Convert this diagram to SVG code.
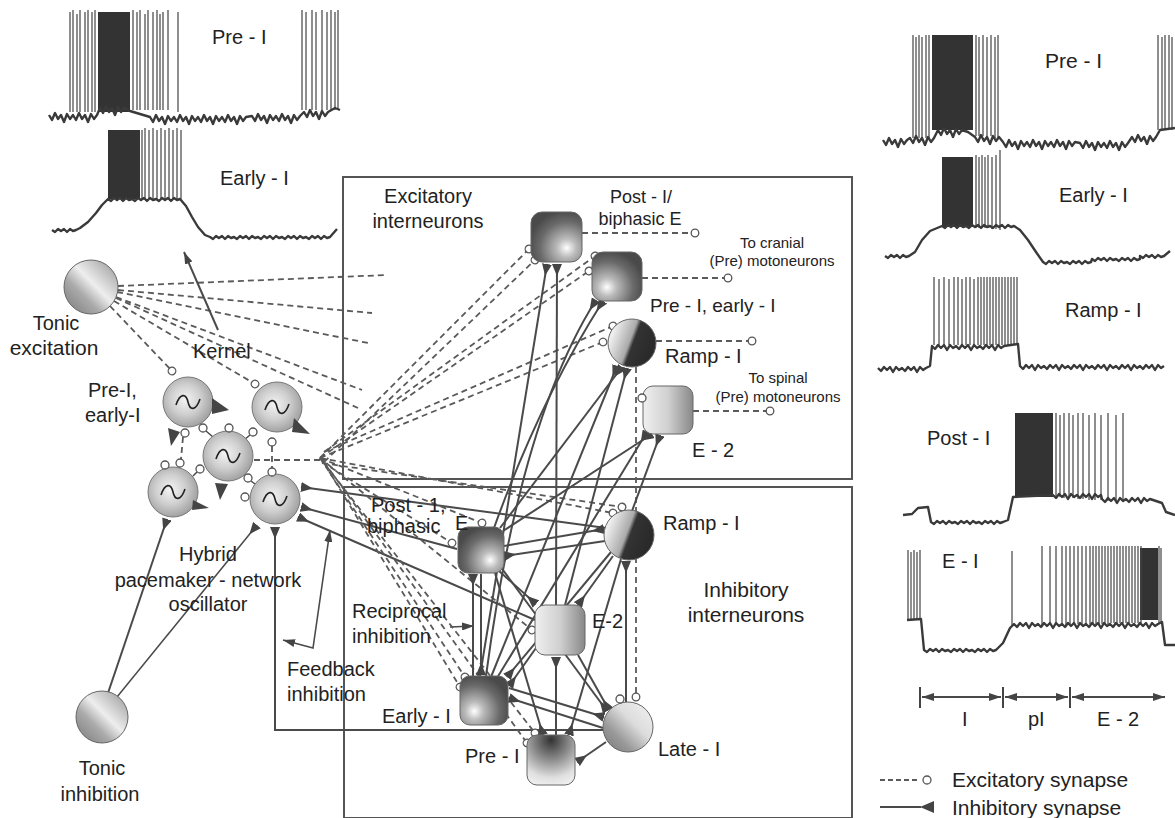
<svg xmlns="http://www.w3.org/2000/svg" xmlns:xlink="http://www.w3.org/1999/xlink" width="1175" height="818" viewBox="0 0 1175 818">
<style>
.t{font-family:"Liberation Sans",Arial,sans-serif;fill:#222}
.s20{font-size:20px}.s21{font-size:21px}.s18{font-size:18px}.s15{font-size:15px}.s19{font-size:19px}
.mid{text-anchor:middle}
.tr{fill:none;stroke:#3a3a3a;stroke-width:2.4;stroke-linejoin:round}
.sp{fill:none;stroke:#444;stroke-width:1.2}
.burst{fill:#333}
.inh{fill:none;stroke:#4a4a4a;stroke-width:2}
.exc{fill:none;stroke:#5a5a5a;stroke-width:1.8;stroke-dasharray:6 4}
.box{fill:none;stroke:#555;stroke-width:2}
.syn{fill:#fff;stroke:#555;stroke-width:1.3}
.tri{fill:#444}
.nd{stroke:#666;stroke-width:1}
</style>
<defs>
<radialGradient id="gOsc" cx="0.45" cy="0.45" r="0.6"><stop offset="0" stop-color="#f4f4f4"/><stop offset="0.5" stop-color="#cfcfcf"/><stop offset="1" stop-color="#9a9a9a"/></radialGradient>
<linearGradient id="gTonic" x1="0" y1="1" x2="1" y2="0"><stop offset="0" stop-color="#777"/><stop offset="0.35" stop-color="#aaa"/><stop offset="0.55" stop-color="#eee"/><stop offset="0.8" stop-color="#bbb"/><stop offset="1" stop-color="#888"/></linearGradient>
<radialGradient id="gBR" cx="0.7" cy="0.72" r="0.75"><stop offset="0" stop-color="#fff"/><stop offset="0.25" stop-color="#bbb"/><stop offset="0.7" stop-color="#6a6a6a"/><stop offset="1" stop-color="#4a4a4a"/></radialGradient>
<radialGradient id="gBL" cx="0.3" cy="0.72" r="0.75"><stop offset="0" stop-color="#fff"/><stop offset="0.25" stop-color="#bbb"/><stop offset="0.7" stop-color="#6a6a6a"/><stop offset="1" stop-color="#4a4a4a"/></radialGradient>
<linearGradient id="gRamp" x1="0.1" y1="0.3" x2="0.9" y2="0.6"><stop offset="0" stop-color="#eee"/><stop offset="0.45" stop-color="#aaa"/><stop offset="0.55" stop-color="#333"/><stop offset="1" stop-color="#2a2a2a"/></linearGradient>
<linearGradient id="gE2" x1="0" y1="0" x2="1" y2="0"><stop offset="0" stop-color="#f0f0f0"/><stop offset="0.5" stop-color="#d0d0d0"/><stop offset="1" stop-color="#888"/></linearGradient>
<linearGradient id="gLate" x1="0" y1="1" x2="1" y2="0"><stop offset="0" stop-color="#777"/><stop offset="0.3" stop-color="#999"/><stop offset="0.6" stop-color="#ddd"/><stop offset="1" stop-color="#f2f2f2"/></linearGradient>
<radialGradient id="gPre" cx="0.5" cy="0.1" r="0.95"><stop offset="0" stop-color="#333"/><stop offset="0.4" stop-color="#888"/><stop offset="0.8" stop-color="#e0e0e0"/><stop offset="1" stop-color="#f0f0f0"/></radialGradient>
<marker id="tri" viewBox="0 0 12 10" markerWidth="12" markerHeight="10" refX="12" refY="5" orient="auto" markerUnits="userSpaceOnUse"><path d="M0,5 L12,0 L12,10 Z" fill="#444"/></marker>
<marker id="ex" viewBox="0 0 10 10" markerWidth="10" markerHeight="10" refX="5" refY="5" orient="auto" markerUnits="userSpaceOnUse"><circle cx="5" cy="5" r="3.8" fill="#fff" stroke="#555" stroke-width="1.3"/></marker>
<marker id="arr" viewBox="0 0 12 8" markerWidth="12" markerHeight="8" refX="12" refY="4" orient="auto-start-reverse" markerUnits="userSpaceOnUse"><path d="M0,0 L12,4 L0,8 Z" fill="#444"/></marker>
<g id="osc"><circle r="25" fill="url(#gOsc)" stroke="#777" stroke-width="1"/><path d="M-12,3 C-8,-9 -2,-9 0,0 C2,9 8,9 12,-3" fill="none" stroke="#222" stroke-width="1.6"/></g>
</defs>
<rect width="1175" height="818" fill="#fff"/>

<g id="traces-left">
<rect class="burst" x="98" y="12" width="32" height="100"/>
<path class="sp" d="M70,112V12M73,112V10M77,112V14M80,112V10M85,112V12M88,112V10M92,112V12M95,112V10M133,110V10M137,110V12M140,110V10M145,110V14M148,110V10M153,110V12M157,110V10M160,110V14M163,110V12M168,110V10M178,112V12M302,110V10M306,110V12M312,110V10M316,110V12M322,110V10M327,110V12M331,110V10M335,110V12M338,110V10"/>
<path class="tr" d="M49,115 l3,5 3,-7 3,6 3,-4 3,7 3,-8 3,5 3,-4 3,5 3,-7 3,6 3,-4 3,7 3,-8 3,5 3,-4 L100,108 l3,5 3,-7 3,6 3,-4 3,7 3,-8 3,5 3,-4 L130,111 L150,117 l3,5 3,-7 3,6 3,-4 3,7 3,-8 3,5 3,-4 3,5 3,-7 3,6 3,-4 3,7 3,-8 3,5 3,-4 3,5 3,-7 3,6 3,-4 3,7 3,-8 3,5 3,-4 3,5 3,-7 3,6 3,-4 3,7 3,-8 3,5 3,-4 L252,116 l3,5 3,-7 3,6 3,-4 3,7 3,-8 3,5 3,-4 3,5 3,-7 3,6 3,-4 3,7 3,-8 3,5 3,-4 L304,112 l3,5 3,-7 3,6 3,-4 3,7 3,-8 3,5 3,-4 L335,108 L340,110"/>
<text class="t s20" x="212" y="44">Pre - I</text>
<rect class="burst" x="108" y="130" width="32" height="69"/>
<path class="sp" d="M142,199V130M145,199V128M149,199V130M153,199V128M157,199V130M161,199V128M165,199V130M169,199V128M173,199V130M177,199V128M181,199V130"/>
<path class="tr" d="M52,230 l3,2 3,-3 3,2 3,-2 3,3 3,-3 3,2 3,-1 L80,228 L88,222 L96,213 L102,205 L108,199 l3,2 3,-3 3,2 3,-2 3,3 3,-3 3,2 3,-1 3,2 3,-3 3,2 3,-2 3,3 3,-3 3,2 3,-1 3,2 3,-3 3,2 3,-2 3,3 3,-3 3,2 3,-1 L186,206 L192,217 L198,227 L205,235 L210,237 l3,2 3,-3 3,2 3,-2 3,3 3,-3 3,2 3,-1 3,2 3,-3 3,2 3,-2 3,3 3,-3 3,2 3,-1 3,2 3,-3 3,2 3,-2 3,3 3,-3 3,2 3,-1 3,2 3,-3 3,2 3,-2 3,3 3,-3 3,2 3,-1 3,2 3,-3 3,2 3,-2 3,3 3,-3 3,2 3,-1 L337,229"/>
<text class="t s20" x="220" y="185">Early - I</text>
</g>

<g id="traces-right">
<rect class="burst" x="932" y="35" width="41" height="95"/>
<path class="sp" d="M913,138V35M916,138V37M919,138V35M922,138V37M926,138V35M929,138V35M976,136V35M979,136V37M983,136V35M987,136V37M991,136V35M995,138V37M998,138V35M1158,130V35M1162,130V37M1165,130V35M1169,130V35M1172,130V37"/>
<path class="tr" d="M883,140 l3,5 3,-7 3,6 3,-4 3,7 3,-8 3,5 3,-4 L910,138 l3,5 3,-7 3,6 3,-4 3,7 3,-8 3,5 3,-4 L938,130 l3,5 3,-7 3,6 3,-4 3,7 3,-8 3,5 3,-4 L968,132 L975,137 l3,5 3,-7 3,6 3,-4 3,7 3,-8 3,5 3,-4 L1003,142 l3,5 3,-7 3,6 3,-4 3,7 3,-8 3,5 3,-4 3,5 3,-7 3,6 3,-4 3,7 3,-8 3,5 3,-4 3,5 3,-7 3,6 3,-4 3,7 3,-8 3,5 3,-4 L1080,143 l3,5 3,-7 3,6 3,-4 3,7 3,-8 3,5 3,-4 3,5 3,-7 3,6 3,-4 3,7 3,-8 3,5 3,-4 L1132,137 l3,5 3,-7 3,6 3,-4 3,7 3,-8 3,5 3,-4 L1160,130 L1175,128"/>
<text class="t s21" x="1045" y="68">Pre - I</text>
<rect class="burst" x="942" y="157" width="31" height="70"/>
<path class="sp" d="M976,228V155M979,228V157M982,228V155M985,228V157M988,228V155M992,229V157M996,229V155M1000,230V150"/>
<path class="tr" d="M885,256 l3,2 3,-3 3,2 3,-2 3,3 3,-3 3,2 3,-1 L915,252 L922,240 L930,231 L942,226 l3,2 3,-3 3,2 3,-2 3,3 3,-3 3,2 3,-1 3,2 3,-3 3,2 3,-2 3,3 3,-3 3,2 3,-1 3,2 3,-3 3,2 3,-2 3,3 3,-3 3,2 3,-1 L1020,230 L1028,240 L1036,252 L1043,262 l3,2 3,-3 3,2 3,-2 3,3 3,-3 3,2 3,-1 3,2 3,-3 3,2 3,-2 3,3 3,-3 3,2 3,-1 L1092,259 l3,2 3,-3 3,2 3,-2 3,3 3,-3 3,2 3,-1 3,2 3,-3 3,2 3,-2 3,3 3,-3 3,2 3,-1 L1140,256 l3,2 3,-3 3,2 3,-2 3,3 3,-3 3,2 3,-1 L1170,251"/>
<text class="t s20" x="1059" y="202">Early - I</text>
<path class="sp" d="M934,345V277M939,345V279M944,345V277M949,345V279M954,345V277M958,345V277M962,345V279M966,345V277M970,345V277M974,345V279M978,345V277M981,345V277M984,345V277M987,345V277M990,345V277M993,345V277M996,345V277M999,345V277M1002,345V277M1005,345V277M1008,345V277M1011,345V277M1014,345V277M1017,345V277"/>
<path class="tr" d="M878,368 l3,3 3,-4 3,3 3,-3 3,5 3,-5 3,3 3,-2 3,3 3,-4 3,3 3,-3 3,5 3,-5 3,3 3,-2 L930,366 L932,346 l3,3 3,-4 3,3 3,-3 3,5 3,-5 3,3 3,-2 3,3 3,-4 3,3 3,-3 3,5 3,-5 3,3 3,-2 3,3 3,-4 3,3 3,-3 3,5 3,-5 3,3 3,-2 L1018,344 L1020,366 l3,3 3,-4 3,3 3,-3 3,5 3,-5 3,3 3,-2 3,3 3,-4 3,3 3,-3 3,5 3,-5 3,3 3,-2 3,3 3,-4 3,3 3,-3 3,5 3,-5 3,3 3,-2 3,3 3,-4 3,3 3,-3 3,5 3,-5 3,3 3,-2 3,3 3,-4 3,3 3,-3 3,5 3,-5 3,3 3,-2 3,3 3,-4 3,3 3,-3 3,5 3,-5 3,3 3,-2"/>
<text class="t s20" x="1065" y="317">Ramp - I</text>
<rect class="burst" x="1015" y="413" width="38" height="84"/>
<path class="sp" d="M1056,497V413M1060,497V415M1064,498V413M1069,498V413M1073,498V415M1078,499V413M1083,499V413M1089,500V415M1095,500V413M1101,500V415M1108,501V413M1116,502V415M1123,502V413"/>
<path class="tr" d="M903,515 L912,514 L918,508 L928,507 L931,522 l3,2 3,-3 3,2 3,-2 3,3 3,-3 3,2 3,-1 3,2 3,-3 3,2 3,-2 3,3 3,-3 3,2 3,-1 3,2 3,-3 3,2 3,-2 3,3 3,-3 3,2 3,-1 L1008,520 L1013,497 L1053,495 l3,3 3,-4 3,3 3,-3 3,5 3,-5 3,3 3,-2 3,3 3,-4 3,3 3,-3 3,5 3,-5 3,3 3,-2 L1102,499 l3,3 3,-4 3,3 3,-3 3,5 3,-5 3,3 3,-2 3,3 3,-4 3,3 3,-3 3,5 3,-5 3,3 3,-2 L1162,503 L1166,512 L1175,515"/>
<text class="t s20" x="927" y="445">Post - I</text>
<rect class="burst" x="1140" y="548" width="18" height="72"/>
<path class="sp" d="M908,620V550M911,620V552M914,620V550M917,620V552M920,620V550M1012,626V551M1042,625V546M1050,625V546M1056,625V546M1062,625V546M1066,625V546M1070,624V546M1074,624V546M1078,624V546M1082,624V546M1086,624V546M1090,624V546M1093,624V546M1096,624V546M1099,624V546M1102,624V546M1105,624V546M1108,624V546M1111,623V546M1114,623V546M1117,623V546M1120,623V546M1123,623V546M1126,623V546M1129,623V546M1132,623V546M1135,623V546M1138,623V546M1141,623V546M1159,623V546M1161,623V548"/>
<path class="tr" d="M907,620 L921,619 L924,650 l3,2 3,-3 3,2 3,-2 3,3 3,-3 3,2 3,-1 3,2 3,-3 3,2 3,-2 3,3 3,-3 3,2 3,-1 3,2 3,-3 3,2 3,-2 3,3 3,-3 3,2 3,-1 L1003,643 L1010,628 L1014,624 l3,3 3,-4 3,3 3,-3 3,5 3,-5 3,3 3,-2 3,3 3,-4 3,3 3,-3 3,5 3,-5 3,3 3,-2 3,3 3,-4 3,3 3,-3 3,5 3,-5 3,3 3,-2 3,3 3,-4 3,3 3,-3 3,5 3,-5 3,3 3,-2 3,3 3,-4 3,3 3,-3 3,5 3,-5 3,3 3,-2 3,3 3,-4 3,3 3,-3 3,5 3,-5 3,3 3,-2 L1162,622 L1165,645 L1175,645"/>
<text class="t s20" x="942" y="568">E - I</text>
</g>

<g id="phase-bar">
<path class="sp" d="M920,687V708M1003,687V708M1070,687V708" style="stroke-width:2"/>
<path class="inh" d="M922,697H1001" marker-start="url(#arr)" marker-end="url(#arr)"/>
<path class="inh" d="M1005,697H1068" marker-start="url(#arr)" marker-end="url(#arr)"/>
<path class="inh" d="M1072,697H1165" marker-start="url(#arr)" marker-end="url(#arr)"/>
<text class="t s20" x="962" y="726">I</text>
<text class="t s20" x="1028" y="726">pI</text>
<text class="t s20" x="1097" y="726">E - 2</text>
</g>

<g id="legend">
<path class="exc" d="M880,780H918" style="stroke-dasharray:5 3"/>
<circle class="syn" cx="927" cy="780" r="4"/>
<text class="t s21" x="952" y="787">Excitatory synapse</text>
<path class="inh" d="M880,807H921"/>
<polygon class="tri" points="920,807 934,801 934,813"/>
<text class="t s21" x="952" y="815">Inhibitory synapse</text>
</g>

<g id="boxes">
<rect class="box" x="343" y="177" width="509" height="302"/>
<rect class="box" x="344" y="487" width="508" height="331"/>
</g>

<g id="connectors">
<!-- tonic excitation fan -->
<path class="exc" d="M118,286L387,275"/>
<path class="exc" d="M118,290L372,313"/>
<path class="exc" d="M117,292L368,343"/>
<path class="exc" d="M116,297L362,390"/>
<path class="exc" d="M116,298L358,408"/>
<path class="exc" d="M114,301L255,384" marker-end="url(#ex)"/>
<path class="exc" d="M110,306L172,371" marker-end="url(#ex)"/>
<!-- kernel arrow -->
<path class="inh" d="M218,330L184,252" marker-end="url(#arr)"/>
<!-- oscillator links -->
<path class="exc" d="M183,437L181,459"/>
<path class="exc" d="M272,446V468"/>
<path class="exc" d="M254,460H320"/>
<path class="inh" d="M206,431L213,437M250,435L244,440M197,472L193,476M251,481L255,484" style="stroke-width:1.5"/>
<!-- tonic inhibition -->
<path class="inh" d="M108,693L167,519" marker-end="url(#tri)"/>
<path class="inh" d="M117,697L257,525" marker-end="url(#tri)" style="stroke-width:1.5"/>
<!-- inhibitory to kernel -->
<path class="inh" d="M606,528L301,487" marker-end="url(#tri)"/>
<path class="inh" d="M457,549L301,507" marker-end="url(#tri)"/>
<path class="inh" d="M535,620L298,517" marker-end="url(#tri)"/>
<path class="inh" d="M603,730H275V527" marker-end="url(#tri)"/>
<!-- feedback / reciprocal labels arrows -->
<path class="inh" d="M330,530L313,648L283,640" marker-start="url(#arr)" marker-end="url(#arr)" style="stroke-width:1.6"/>
<path class="inh" d="M450,627L474,626" marker-end="url(#arr)" style="stroke-width:1.4"/>
<!-- excitatory outputs -->
<path class="exc" d="M582,233H695" marker-end="url(#ex)"/>
<path class="exc" d="M642,278H728" marker-end="url(#ex)"/>
<path class="exc" d="M656,341H752" marker-end="url(#ex)"/>
<path class="exc" d="M693,411H770" marker-end="url(#ex)"/>
<!-- convergence dashed -->
<path class="exc" d="M320,458L529,249" marker-end="url(#ex)"/>
<path class="exc" d="M324,462L535,260" marker-end="url(#ex)"/>
<path class="exc" d="M320,458L589,271" marker-end="url(#ex)"/>
<path class="exc" d="M324,452L595,256" marker-end="url(#ex)"/>
<path class="exc" d="M320,458L603,342" marker-end="url(#ex)"/>
<path class="exc" d="M324,452L613,326" marker-end="url(#ex)"/>
<path class="exc" d="M320,458L613,513" marker-end="url(#ex)"/>
<path class="exc" d="M322,463L622,507" marker-end="url(#ex)"/>
<path class="exc" d="M320,458L482,523" marker-end="url(#ex)"/>
<path class="exc" d="M322,462L452,543" marker-end="url(#ex)"/>
<path class="exc" d="M320,458L532,630" marker-end="url(#ex)"/>
<path class="exc" d="M320,458L465,677" marker-end="url(#ex)"/>
<path class="exc" d="M324,463L460,687" marker-end="url(#ex)"/>
<path class="exc" d="M320,458L535,733" marker-end="url(#ex)"/>
<path class="exc" d="M324,462L527,743" marker-end="url(#ex)"/>
<path class="exc" d="M636,367V697" marker-end="url(#ex)"/>
<!-- inhibitory to excitatory -->
<path class="inh" d="M480,676L547,264" marker-end="url(#tri)"/>
<path class="inh" d="M556,605L557,264" marker-end="url(#tri)"/>
<path class="inh" d="M486,676Q520,420 596,300" marker-end="url(#tri)"/>
<path class="inh" d="M494,528Q540,400 603,301" marker-end="url(#tri)"/>
<path class="inh" d="M491,677L617,366" marker-end="url(#tri)"/>
<path class="inh" d="M500,528L622,367" marker-end="url(#tri)"/>
<path class="inh" d="M565,605L627,368" marker-end="url(#tri)"/>
<path class="inh" d="M497,678L647,432" marker-end="url(#tri)"/>
<path class="inh" d="M503,531L652,434" marker-end="url(#tri)"/>
<path class="inh" d="M632,511L660,435" marker-end="url(#tri)"/>
<!-- inhibitory network -->
<path class="inh" d="M504,546L604,529" marker-end="url(#tri)"/>
<path class="inh" d="M605,541L504,556" marker-end="url(#tri)"/>
<path class="inh" d="M473,676V574" marker-end="url(#tri)"/>
<path class="inh" d="M481,574V675" marker-end="url(#tri)"/>
<path class="inh" d="M499,571L536,604" marker-end="url(#tri)"/>
<path class="inh" d="M495,573L543,735" marker-end="url(#tri)"/>
<path class="inh" d="M500,566L607,711" marker-end="url(#tri)"/>
<path class="inh" d="M611,552L507,677" marker-end="url(#tri)"/>
<path class="inh" d="M613,556L578,605" marker-end="url(#tri)"/>
<path class="inh" d="M621,559L569,735" marker-end="url(#tri)"/>
<path class="inh" d="M626,702V561" marker-end="url(#tri)"/>
<path class="inh" d="M536,648L509,686" marker-end="url(#tri)"/>
<path class="inh" d="M556,735V657" marker-end="url(#tri)"/>
<path class="inh" d="M578,655L609,710" marker-end="url(#tri)"/>
<path class="inh" d="M509,688L604,717" marker-end="url(#tri)"/>
<path class="inh" d="M603,728L509,698" marker-end="url(#tri)"/>
<path class="inh" d="M606,742L577,762" marker-end="url(#tri)"/>
</g>

<g id="tonic-excitation"><circle class="nd" cx="91" cy="287" r="27" fill="url(#gTonic)"/><text class="t s20 mid" x="56" y="330">Tonic</text><text class="t s21 mid" x="54" y="355">excitation</text></g>
<g id="kernel-label"><text class="t s20" x="193" y="358">Kernel</text></g>
<g id="osc-a"><use href="#osc" x="188" y="402"/><polygon class="tri" points="212,398 229,410 212,414"/><polygon class="tri" points="168,428 180,432 171,446"/><circle class="syn" cx="185" cy="433" r="4"/><circle class="syn" cx="203" cy="428" r="4"/></g>
<g id="osc-b"><use href="#osc" x="277" y="407"/><polygon class="tri" points="294,418 310,434 292,432"/><circle class="syn" cx="272" cy="442" r="4"/><circle class="syn" cx="253" cy="432" r="4"/></g>
<g id="osc-c"><use href="#osc" x="228" y="456"/><polygon class="tri" points="215,483 228,484 220,500"/><circle class="syn" cx="229" cy="428" r="4"/><circle class="syn" cx="200" cy="469" r="4"/><circle class="syn" cx="248" cy="478" r="4"/></g>
<g id="osc-d"><use href="#osc" x="173" y="492"/><polygon class="tri" points="193,500 209,508 192,510"/><circle class="syn" cx="165" cy="465" r="4"/><circle class="syn" cx="180" cy="463" r="4"/></g>
<g id="osc-e"><use href="#osc" x="275" y="499"/><circle class="syn" cx="272" cy="472" r="4"/><circle class="syn" cx="245" cy="497" r="4"/></g>
<g id="kernel-text"><text class="t s20" x="88" y="397">Pre-I,</text><text class="t s20" x="85" y="422">early-I</text><text class="t s20 mid" x="208" y="561">Hybrid</text><text class="t s20 mid" x="208" y="587">pacemaker - network</text><text class="t s20 mid" x="208" y="611">oscillator</text></g>
<g id="tonic-inhibition"><circle class="nd" cx="102" cy="717" r="26" fill="url(#gTonic)"/><text class="t s20 mid" x="102" y="775">Tonic</text><text class="t s20 mid" x="100" y="801">inhibition</text></g>
<g id="feedback-label"><text class="t s20" x="287" y="676">Feedback</text><text class="t s20" x="287" y="701">inhibition</text></g>
<g id="reciprocal-label"><text class="t s20" x="352" y="618">Reciprocal</text><text class="t s20" x="352" y="643">inhibition</text></g>

<g id="excitatory-label"><text class="t s20 mid" x="428" y="203">Excitatory</text><text class="t s20 mid" x="428" y="228">interneurons</text></g>
<g id="ex-postI"><rect class="nd" x="531" y="212" width="51" height="50" rx="11" fill="url(#gBR)"/><text class="t s18 mid" x="641" y="203">Post - I/</text><text class="t s18 mid" x="640" y="225">biphasic E</text></g>
<g id="ex-preI"><rect class="nd" x="592" y="252" width="50" height="49" rx="11" fill="url(#gBL)"/><text class="t s15 mid" x="772" y="248">To cranial</text><text class="t s15 mid" x="772" y="266">(Pre) motoneurons</text><text class="t s19" x="650" y="312">Pre - I, early - I</text></g>
<g id="ex-ramp"><circle class="nd" cx="632" cy="343" r="24" fill="url(#gRamp)"/><text class="t s20" x="665" y="363">Ramp - I</text></g>
<g id="ex-e2"><rect class="nd" x="643" y="386" width="50" height="48" rx="10" fill="url(#gE2)"/><circle class="syn" cx="642" cy="398" r="4"/><text class="t s15 mid" x="778" y="383">To spinal</text><text class="t s15 mid" x="778" y="402">(Pre) motoneurons</text><text class="t s20" x="692" y="457">E - 2</text></g>

<g id="inhibitory-label"><text class="t s21 mid" x="746" y="597">Inhibitory</text><text class="t s21 mid" x="746" y="622">interneurons</text></g>
<g id="in-postI"><rect class="nd" x="458" y="527" width="46" height="46" rx="10" fill="url(#gBR)"/><text class="t s20" x="371" y="512">Post - 1,</text><text class="t s20" x="367" y="533">biphasic</text><text class="t s20" x="455" y="530">E</text></g>
<g id="in-ramp"><circle class="nd" cx="629" cy="535" r="25" fill="url(#gRamp)"/><text class="t s20" x="663" y="530">Ramp - I</text></g>
<g id="in-e2"><rect class="nd" x="535" y="605" width="50" height="50" rx="10" fill="url(#gE2)"/><text class="t s20" x="592" y="628">E-2</text></g>
<g id="in-earlyI"><rect class="nd" x="460" y="676" width="48" height="49" rx="10" fill="url(#gBL)"/><text class="t s20" x="382" y="723">Early - I</text></g>
<g id="in-lateI"><circle class="nd" cx="628" cy="727" r="25" fill="url(#gLate)"/><circle class="syn" cx="620" cy="699" r="4"/><text class="t s20" x="658" y="756">Late - I</text></g>
<g id="in-preI"><rect class="nd" x="527" y="735" width="48" height="50" rx="10" fill="url(#gPre)"/><text class="t s20" x="465" y="763">Pre - I</text></g>
</svg>
